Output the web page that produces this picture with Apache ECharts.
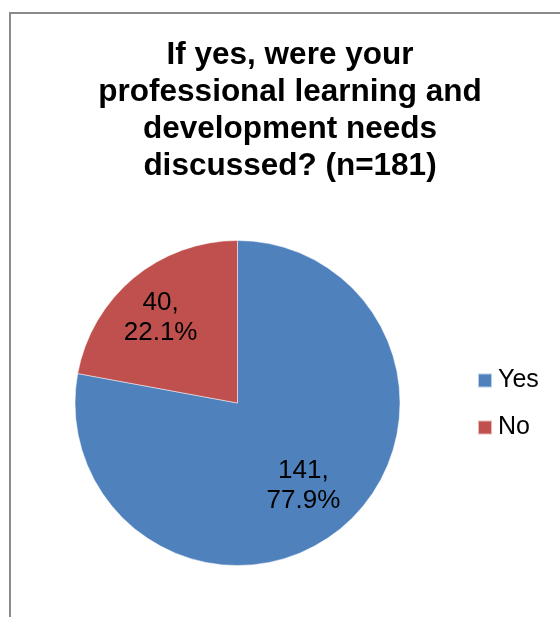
<!DOCTYPE html>
<html>
<head>
<meta charset="utf-8">
<style>
  html, body { margin: 0; padding: 0; background: #fff; }
  #chart { width: 560px; height: 617px; }
</style>
<script src="https://cdn.jsdelivr.net/npm/echarts@6/dist/echarts.min.js"></script>
</head>
<body>
<div id="chart"></div>
<script>
// Survey answers
const categories = ['Yes', 'No'];
const counts = [141, 40];
const sliceColors = ['#4F81BD', '#C0504D'];
const titleText = 'If yes, were your\nprofessional learning and\ndevelopment needs\ndiscussed? (n=181)';

// Nudge of each inside label away from the slice midpoint (px)
const labelShift = [[12, 18], [-23, -20]];

const total = counts.reduce((a, b) => a + b, 0);
const pieData = categories.map((name, i) => ({
  name: name,
  value: counts[i],
  itemStyle: { color: sliceColors[i] }
}));

const chart = echarts.init(document.getElementById('chart'), null, { renderer: 'canvas' });

chart.setOption({
  animation: false,
  backgroundColor: '#ffffff',
  textStyle: { fontFamily: 'Liberation Sans, Arial, sans-serif' },
  graphic: [{
    type: 'rect',
    silent: true,
    shape: { x: 10, y: 13, width: 600, height: 650 },
    style: { fill: 'none', stroke: '#8a8a8a', lineWidth: 2 }
  }],
  title: {
    text: titleText,
    left: 290,
    top: 37,
    textAlign: 'center',
    padding: 0,
    textStyle: {
      fontFamily: 'Liberation Sans, Arial, sans-serif',
      fontSize: 31.5,
      fontWeight: 'bold',
      color: '#000',
      lineHeight: 37
    }
  },
  legend: {
    orient: 'vertical',
    left: 477,
    top: 368,
    padding: 0,
    itemWidth: 14,
    itemHeight: 14,
    itemGap: 22,
    icon: 'rect',
    data: categories,
    textStyle: {
      fontFamily: 'Liberation Sans, Arial, sans-serif',
      fontSize: 25,
      lineHeight: 24,
      color: '#000',
      padding: [0, 0, 0, 1]
    }
  },
  series: [{
    type: 'pie',
    center: [237.5, 403],
    radius: 162.5,
    startAngle: 90,
    clockwise: true,
    avoidLabelOverlap: false,
    data: pieData,
    itemStyle: { borderColor: 'rgba(255,255,255,0.6)', borderWidth: 0.8 },
    label: {
      show: true,
      position: 'inside',
      formatter: p => p.value + ',\n' + (p.value / total * 100).toFixed(1) + '%',
      fontFamily: 'Liberation Sans, Arial, sans-serif',
      fontSize: 26,
      lineHeight: 30,
      color: '#000',
      align: 'center'
    },
    labelLine: { show: false },
    labelLayout: params => ({
      dx: labelShift[params.dataIndex][0],
      dy: labelShift[params.dataIndex][1]
    }),
    emphasis: { disabled: true }
  }]
});
</script>
</body>
</html>
